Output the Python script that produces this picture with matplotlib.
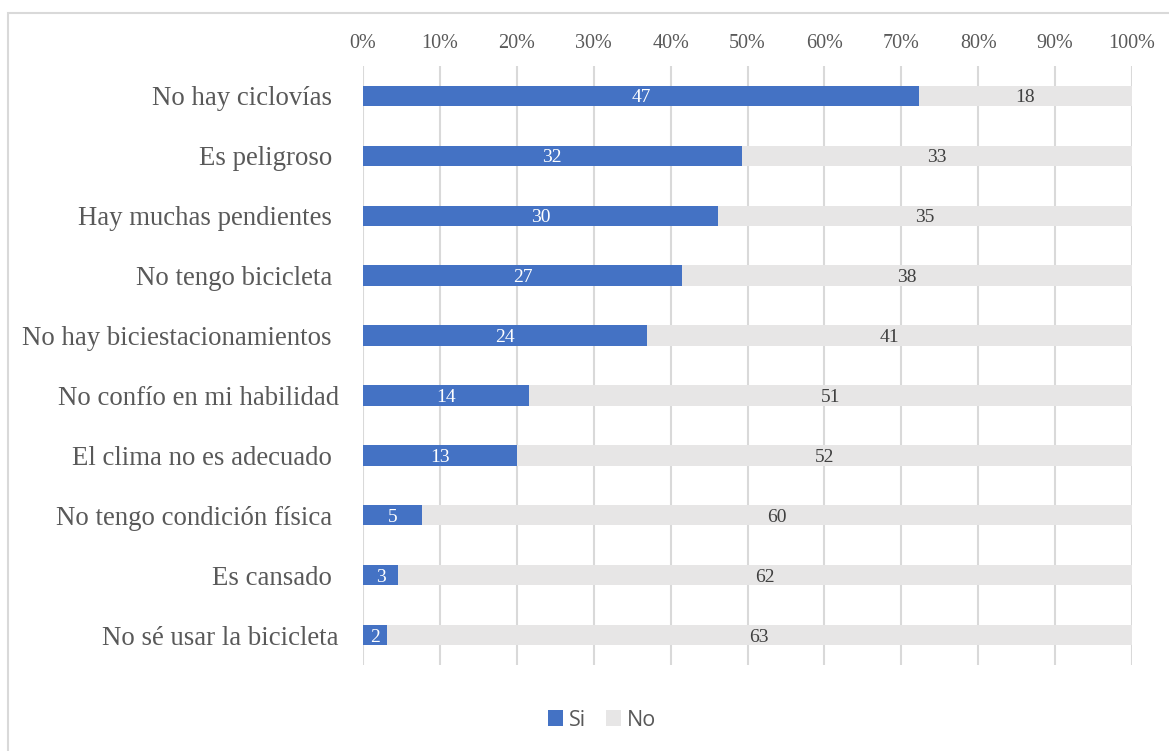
import matplotlib
matplotlib.use("Agg")
import matplotlib.pyplot as plt
from matplotlib.patches import Rectangle
import numpy as np

categories = [
    "No hay ciclovías ",
    "Es peligroso ",
    "Hay muchas pendientes ",
    "No tengo bicicleta ",
    "No hay biciestacionamientos ",
    "No confío en mi habilidad",
    "El clima no es adecuado ",
    "No tengo condición física ",
    "Es cansado ",
    "No sé usar la bicicleta",
]
si_counts = [47, 32, 30, 27, 24, 14, 13, 5, 3, 2]
no_counts = [18, 33, 35, 38, 41, 51, 52, 60, 62, 63]
x_ticks = [0, 10, 20, 30, 40, 50, 60, 70, 80, 90, 100]

SI_COLOR = "#4472C4"
NO_COLOR = "#E7E6E6"
TEXT_COLOR = "#595959"
GRID_COLOR = "#D9D9D9"
SERIF = ["Liberation Serif", "DejaVu Serif"]

W, H = 1169, 751
fig = plt.figure(figsize=(W / 100, H / 100), dpi=100)
ax = fig.add_axes([363 / W, 1 - 665 / H, (1132 - 363) / W, (665 - 66) / H])

si = np.array(si_counts, dtype=float)
no = np.array(no_counts, dtype=float)
total = si + no
si_pct = si / total * 100
no_pct = no / total * 100
y = np.arange(len(categories))

bar_h = 0.34
ax.barh(y, si_pct, height=bar_h, color=SI_COLOR, label="Si", zorder=3)
ax.barh(y, no_pct, left=si_pct, height=bar_h, color=NO_COLOR, label="No", zorder=3)

for yi, s, sp, n, npct in zip(y, si_counts, si_pct, no_counts, no_pct):
    ax.text(sp / 2, yi, str(s), ha="center", va="center_baseline", color="white",
            fontsize=14, family=SERIF, zorder=4)
    ax.text(sp + npct / 2, yi, str(n), ha="center", va="center_baseline", color="#404040",
            fontsize=14, family=SERIF, zorder=4)

ax.set_xlim(0, 100)
ax.set_ylim(len(categories) - 0.5, -0.5)
ax.set_xticks(x_ticks)
ax.set_xticklabels([f"{t}%" for t in x_ticks], family=SERIF, fontsize=14.5, color=TEXT_COLOR)
ax.xaxis.tick_top()
ax.tick_params(axis="x", length=0, pad=9)
ax.set_yticks(y)
ax.set_yticklabels(categories, family=SERIF, fontsize=19.3, color=TEXT_COLOR)
ax.tick_params(axis="y", length=0, pad=17.5)
ax.grid(axis="x", color=GRID_COLOR, linewidth=1.5, zorder=0)
for sp_ in ax.spines.values():
    sp_.set_visible(False)

leg = fig.legend(loc="center", bbox_to_anchor=(602 / W, 1 - 720 / H), ncol=2,
                 frameon=False, prop={"family": "Open Sans", "size": 15.5},
                 handlelength=0.7, handleheight=0.7, handletextpad=0.3, columnspacing=0.9)
for t in leg.get_texts():
    t.set_color(TEXT_COLOR)

# outer chart border
fig.patches.append(Rectangle((7.5 / W, -0.02), 1.05, 1 - 12.5 / H + 0.02,
                             transform=fig.transFigure, fill=False,
                             edgecolor=GRID_COLOR, linewidth=1.5, zorder=0))

fig.savefig("out.png", dpi=100)
